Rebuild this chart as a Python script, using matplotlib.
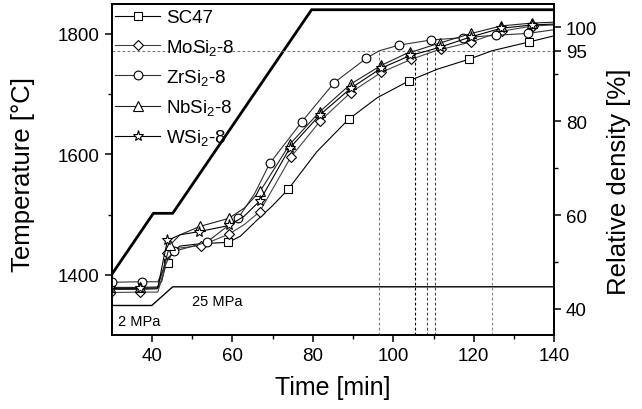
import matplotlib
matplotlib.use("Agg")
import matplotlib.pyplot as plt
from matplotlib.ticker import FixedLocator

plt.rcParams['font.family'] = ['Liberation Sans', 'DejaVu Sans']
plt.rcParams['mathtext.fontset'] = 'custom'
plt.rcParams['mathtext.rm'] = 'Liberation Sans'
plt.rcParams['mathtext.it'] = 'Liberation Sans:italic'

# ---------------- data ----------------
# Temperature program (left axis)
temp_time = [30, 40.4, 45.2, 79.7, 140]
temp_vals = [1400, 1502, 1502, 1840, 1840]

# Pressure program (drawn in left-axis units)
press_time = [30, 40.0, 45.2, 140]
press_vals = [1349, 1349, 1380, 1380]

# Relative density curves (right axis)
sc47_t = [29.2, 37, 41.3, 42.5, 43.2, 44.0, 45.0, 47, 52, 59.0, 62, 66, 70, 73.9, 81, 88.9, 96, 103.9, 111, 118.8, 124.5, 133.8, 140]
sc47_d = [44.2, 44.2, 44.3, 46.0, 48.5, 49.9, 52.0, 53.4, 53.9, 54.2, 55.5, 58.8, 62.0, 65.5, 73.5, 80.4, 85.0, 88.6, 91.1, 93.2, 95.0, 96.9, 98.2]
sc47_m = [0, 5, 9, 13, 15, 17, 19, 21]

mo_t = [29.5, 37.1, 41.5, 43.0, 43.9, 47, 52.2, 59.3, 63, 66.8, 74.5, 81.9, 89.4, 97.0, 104.5, 110.5, 111.9, 119.4, 127.1, 134.7, 140]
mo_d = [43.5, 43.6, 43.6, 48.0, 51.9, 53.0, 53.5, 56.0, 58.0, 60.7, 72.3, 80.1, 86.1, 90.4, 93.2, 95.0, 95.3, 96.9, 99.2, 100.3, 100.5]
mo_m = [0, 1, 4, 6, 7, 9, 10, 11, 12, 13, 14, 16, 17, 18, 19]

zr_t = [30, 37.5, 41.5, 43.0, 44.0, 45.6, 53.6, 61.5, 65.5, 69.3, 77.3, 85.3, 93.3, 96.5, 101.4, 109.3, 117.3, 125.4, 133.4, 140]
zr_d = [45.7, 45.8, 45.8, 48.5, 50.5, 52.3, 54.2, 59.4, 64.5, 71.0, 79.9, 88.2, 93.4, 95.0, 96.2, 97.3, 97.8, 98.3, 98.7, 99.5]
zr_m = [0, 1, 5, 6, 7, 9, 10, 11, 12, 14, 15, 16, 17, 18]

nb_t = [29.5, 37, 41.5, 43.0, 44.5, 47, 52.0, 59.1, 63, 67.0, 74.3, 81.7, 89.4, 97.0, 104.2, 105.5, 111.7, 119.4, 126.8, 134.4, 140]
nb_d = [44.6, 44.6, 44.7, 49.0, 53.6, 55.8, 57.6, 59.3, 61.5, 65.2, 75.1, 82.0, 87.9, 91.9, 94.8, 95.0, 96.7, 98.7, 100.3, 100.9, 101.1]
nb_m = [0, 1, 4, 6, 7, 9, 10, 11, 12, 13, 14, 16, 17, 18, 19]

w_t = [29.5, 37, 41.5, 43.0, 43.9, 47, 51.8, 59.3, 63, 66.8, 74.3, 81.7, 89.4, 97.0, 104.2, 108.5, 111.7, 119.4, 126.8, 134.4, 140]
w_d = [44.4, 44.4, 44.5, 51.0, 54.6, 55.8, 56.5, 57.8, 59.8, 63.0, 74.3, 81.3, 87.0, 91.3, 94.0, 95.0, 95.8, 98.0, 99.8, 100.5, 100.7]
w_m = [0, 1, 4, 6, 7, 9, 10, 11, 12, 13, 14, 16, 17, 18, 19]

labels = ['SC47', 'MoSi$_2$-8', 'ZrSi$_2$-8', 'NbSi$_2$-8', 'WSi$_2$-8']

# times at which 95 % density is reached
t95 = [96.5, 105.5, 108.45, 110.45, 124.5]
t95_colors = ['#777777', '#000000', '#444444', '#444444', '#888888']

# ---------------- figure ----------------
fig = plt.figure(figsize=(6.42, 4.10), dpi=100)
ax = fig.add_axes([0.1737, 0.1805, 0.6897, 0.808])
ax2 = ax.twinx()

ax.set_xlim(30, 140)
ax.set_ylim(1300, 1850)
ax2.set_ylim(34.46, 105.03)

ax.plot(temp_time, temp_vals, color='black', lw=2.0, solid_joinstyle='miter')
ax.plot(press_time, press_vals, color='black', lw=1.0)
ax.text(31.6, 1324, '2 MPa', fontsize=10.5, va='center', ha='left')
ax.text(49.9, 1357, '25 MPa', fontsize=10.5, va='center', ha='left')

# 95 % guides
ax2.plot([30, 140], [95, 95], ls=(0, (2.5, 2)), color='#777777', lw=0.8)
for tx, c in zip(t95, t95_colors):
    ax2.plot([tx, tx], [34.46, 95], ls=(0, (2.5, 2)), color=c, lw=0.8)

series = [
    (sc47_t, sc47_d, sc47_m, 's', 5.5, 'black'),
    (mo_t, mo_d, mo_m, 'D', 5.0, '#444444'),
    (zr_t, zr_d, zr_m, 'o', 6.3, '#333333'),
    (nb_t, nb_d, nb_m, '^', 6.8, '#222222'),
    (w_t, w_d, w_m, '*', 8.0, 'black'),
]
for (t, d, m, mk, ms, col), lab in zip(series, labels):
    ax2.plot(t, d, color=col, lw=0.8, marker=mk, markevery=m, ms=ms,
             mfc='white', mec='black', mew=0.8, label=lab)

leg = ax2.legend(loc='upper left', bbox_to_anchor=(0.0, 0.995), frameon=False,
                 fontsize=13.5, handlelength=2.4, handletextpad=0.3,
                 labelspacing=0.55, borderaxespad=0.1, borderpad=0.1,
                 markerscale=1.0)

# ticks
ax.xaxis.set_major_locator(FixedLocator([40, 60, 80, 100, 120, 140]))
ax.xaxis.set_minor_locator(FixedLocator([50, 70, 90, 110, 130]))
ax.yaxis.set_major_locator(FixedLocator([1400, 1600, 1800]))
ax.yaxis.set_minor_locator(FixedLocator([1500, 1700]))
ax2.yaxis.set_major_locator(FixedLocator([40, 60, 80, 95, 100]))
ax2.yaxis.set_minor_locator(FixedLocator([50, 70, 90]))

for a in (ax, ax2):
    a.tick_params(which='major', direction='out', length=5, width=1.1, labelsize=13.5)
    a.tick_params(which='minor', direction='out', length=3, width=1.0)
    for s in a.spines.values():
        s.set_linewidth(1.3)
ax.tick_params(axis='x', top=False, which='both')
ax.tick_params(axis='y', right=False, which='both')

ax.set_xlabel('Time [min]', fontsize=18, labelpad=8)
ax.set_ylabel('Temperature [°C]', fontsize=18.5)
ax2.set_ylabel('Relative density [%]', fontsize=18.5)
ax.yaxis.set_label_coords(-0.172, 0.487)
ax2.yaxis.set_label_coords(1.12, 0.467)

fig.savefig('out.png', dpi=100)
